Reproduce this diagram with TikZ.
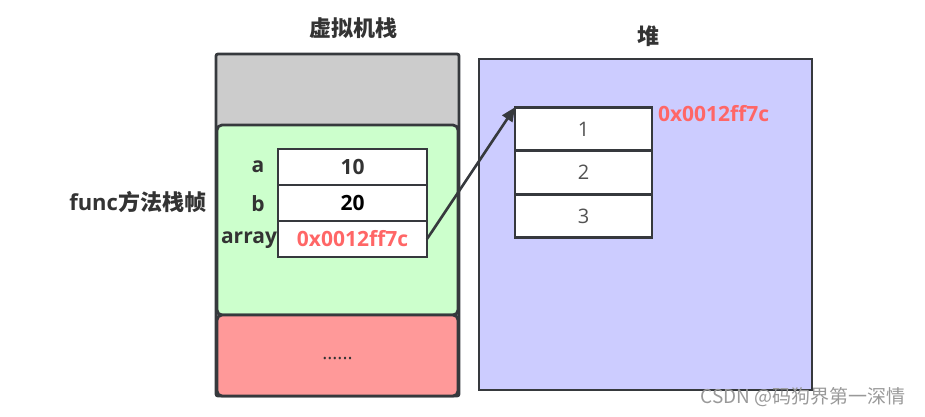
\documentclass[tikz,border=0pt]{standalone}
\usepackage{fontspec}
\setmainfont{Open Sans}
\newfontfamily\cjk{Noto Sans CJK SC}
\usetikzlibrary{arrows.meta}
\definecolor{ink}{HTML}{333333}
\definecolor{edge}{HTML}{36393D}
\definecolor{greyfill}{HTML}{CCCCCC}
\definecolor{greenfill}{HTML}{CCFFCC}
\definecolor{redfill}{HTML}{FF9999}
\definecolor{heapfill}{HTML}{CCCCFF}
\definecolor{addr}{HTML}{FF6666}
\tikzset{
  x=1pt,y=-1pt,
  every node/.style={inner sep=0pt,outer sep=0pt,text=ink,font=\fontsize{21}{24}\selectfont\bfseries},
  region/.style={draw=edge,line width=2.8pt,anchor=center},
  cell/.style={draw=edge,line width=2.8pt,fill=white,anchor=center},
  heapcell/.style={draw=edge,line width=2.8pt,fill=white,anchor=center,font=\fontsize{20}{24}\selectfont\mdseries,text=ink!85},
  lbl/.style={font=\fontsize{21}{24}\selectfont\bfseries},
  title/.style={font=\fontsize{22}{26}\selectfont\cjk\bfseries},
}
\begin{document}
\begin{tikzpicture}
\useasboundingbox (0,0) rectangle (925,416);
% stack
\node[region,fill=greyfill,rounded corners=2pt,minimum width=243pt,minimum height=342pt] (stack) at (337.5,225) {};
\node[region,fill=greenfill,rounded corners=5pt,minimum width=241pt,minimum height=190pt] (frame) at (337.5,220) {};
\node[region,fill=redfill,rounded corners=5pt,minimum width=241pt,minimum height=81pt] (rest) at (337.5,355.5) {};
\node[font=\fontsize{19}{22}\selectfont\mdseries] (dots) at (337.5,359) {......};
\node[title] (stacktitle) at (353,28) {虚拟机栈};
\node[lbl,anchor=east,font=\fontsize{22}{26}\selectfont\bfseries] (functxt) at (206,202) {func{\cjk 方法栈帧}};
% variables
\node[cell,minimum width=149pt,minimum height=36pt] (va) at (352.5,167) {10};
\node[cell,minimum width=149pt,minimum height=36pt,text=black] (vb) at (352.5,203) {20};
\node[cell,minimum width=149pt,minimum height=36pt,text=addr] (varr) at (352.5,239) {0x0012ff7c};
\node[lbl] (la) at (258,167) {a};
\node[lbl] (lb) at (258,204) {b};
\node[lbl,anchor=east] (larr) at (277,240) {array};
% heap
\node[region,fill=heapfill,minimum width=333pt,minimum height=331pt] (heap) at (645.5,224.5) {};
\node[title] (heaptitle) at (648,36) {堆};
\node[heapcell,minimum width=137pt,minimum height=43.5pt] (h1) at (583.5,129) {1};
\node[heapcell,minimum width=137pt,minimum height=43.5pt] (h2) at (583.5,172.5) {2};
\node[heapcell,minimum width=137pt,minimum height=43.5pt] (h3) at (583.5,216) {3};
\node[lbl,anchor=west,text=addr] (haddr) at (658,114) {0x0012ff7c};
% arrow
\draw[edge,line width=2.6pt,-{Triangle[length=14pt,width=12pt]}] (varr.east) -- (h1.north west);
% watermark
\node[font=\fontsize{19}{22}\selectfont\mdseries\cjk,text=black!40] (wm) at (803,397) {CSDN @码狗界第一深情};
\end{tikzpicture}
\end{document}
